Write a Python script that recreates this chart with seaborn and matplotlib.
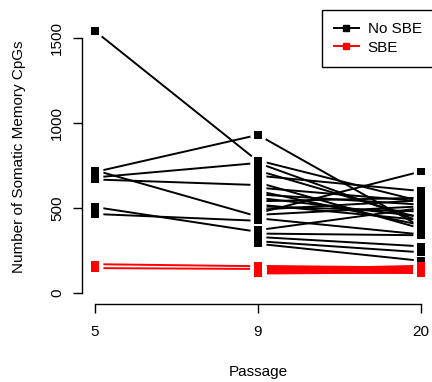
import pandas as pd
import seaborn as sns
import matplotlib.pyplot as plt
from matplotlib.lines import Line2D

# Passages shown on the x axis
passages = [5, 9, 20]

# Samples measured at passage 5 and 9
p5_black = [1540, 722, 712, 680, 668, 506, 465]
p9_from5_black = [775, 450, 930, 765, 635, 360, 425]
p5_red = [170, 147]
p9_from5_red = [158, 142]

# Samples measured at passage 9 and 20
p9_black = [930, 780, 765, 720, 690, 650, 620, 600, 580, 560, 540,
            520, 510, 490, 470, 460, 440, 370, 350, 330, 305, 290]
p20_black = [390, 540, 420, 440, 600, 380, 540, 400, 520, 450, 560,
             430, 480, 545, 715, 510, 345, 500, 340, 275, 240, 190]
p9_red = [160, 155, 150, 148, 145, 143, 140, 138, 136, 135, 133,
          131, 130, 128, 126, 124, 122, 120, 118, 115]
p20_red = [150, 140, 155, 135, 145, 130, 160, 125, 138, 142, 128,
           133, 120, 147, 136, 118, 131, 126, 152, 122]

# Build long table: one row per sample/passage
rows = []
sid = 0
for grp, a, b, pa, pb in [('No SBE', p5_black, p9_from5_black, 5, 9),
                          ('SBE', p5_red, p9_from5_red, 5, 9),
                          ('No SBE', p9_black, p20_black, 9, 20),
                          ('SBE', p9_red, p20_red, 9, 20)]:
    for va, vb in zip(a, b):
        rows.append((sid, grp, pa, va))
        rows.append((sid, grp, pb, vb))
        sid += 1
df = pd.DataFrame(rows, columns=['sample', 'group', 'passage', 'count'])
df['pos'] = df['passage'].map({p: i for i, p in enumerate(passages)})

pal = {'No SBE': 'black', 'SBE': 'red'}

plt.rcParams['font.family'] = ['Liberation Sans', 'DejaVu Sans']
plt.rcParams['font.size'] = 11

fig = plt.figure(figsize=(4.32, 3.82), dpi=100)
ax = fig.add_axes([82 / 432, 78 / 382, 352 / 432, 294 / 382])

# lines, then white discs to open gaps (R type="b"), then square points
sns.lineplot(data=df, x='pos', y='count', hue='group', units='sample',
             estimator=None, palette=pal, lw=1.4, legend=False, sort=False, ax=ax)
sns.scatterplot(data=df, x='pos', y='count', color='white', s=130, marker='o',
                linewidth=0, legend=False, zorder=3, ax=ax)
sns.scatterplot(data=df, x='pos', y='count', hue='group', palette=pal, s=28,
                marker='s', linewidth=0, legend=False, zorder=4, ax=ax)

ax.set_xlim(-0.08, 2.08)
ax.set_ylim(-64, 1664)
ax.set_xticks(range(len(passages)))
ax.set_xticklabels([str(p) for p in passages])
ax.set_yticks([0, 500, 1000, 1500])
ax.set_xlabel('Passage', labelpad=18.5)
ax.set_ylabel('Number of Somatic Memory CpGs', labelpad=17)
for lab in ax.get_yticklabels():
    lab.set_rotation(90)
    lab.set_va('center')
ax.tick_params(length=6.5, width=1, color='black', labelcolor='black')
ax.tick_params(axis='x', pad=8.6)
ax.tick_params(axis='y', pad=6.5)

sns.despine(ax=ax)
ax.spines['left'].set_bounds(0, 1500)
ax.spines['bottom'].set_bounds(0, 2)
ax.spines['left'].set_linewidth(1)
ax.spines['bottom'].set_linewidth(1)

handles = [Line2D([], [], color=pal[g], marker='s', markersize=5, lw=1.4) for g in pal]
leg = ax.legend(handles, list(pal), loc='upper right', borderaxespad=0,
                fancybox=False, framealpha=1, edgecolor='black',
                handlelength=1.6, handletextpad=0.6, labelspacing=0.3,
                borderpad=0.8)
leg.get_frame().set_linewidth(1)

plt.savefig('out.png', dpi=100)
